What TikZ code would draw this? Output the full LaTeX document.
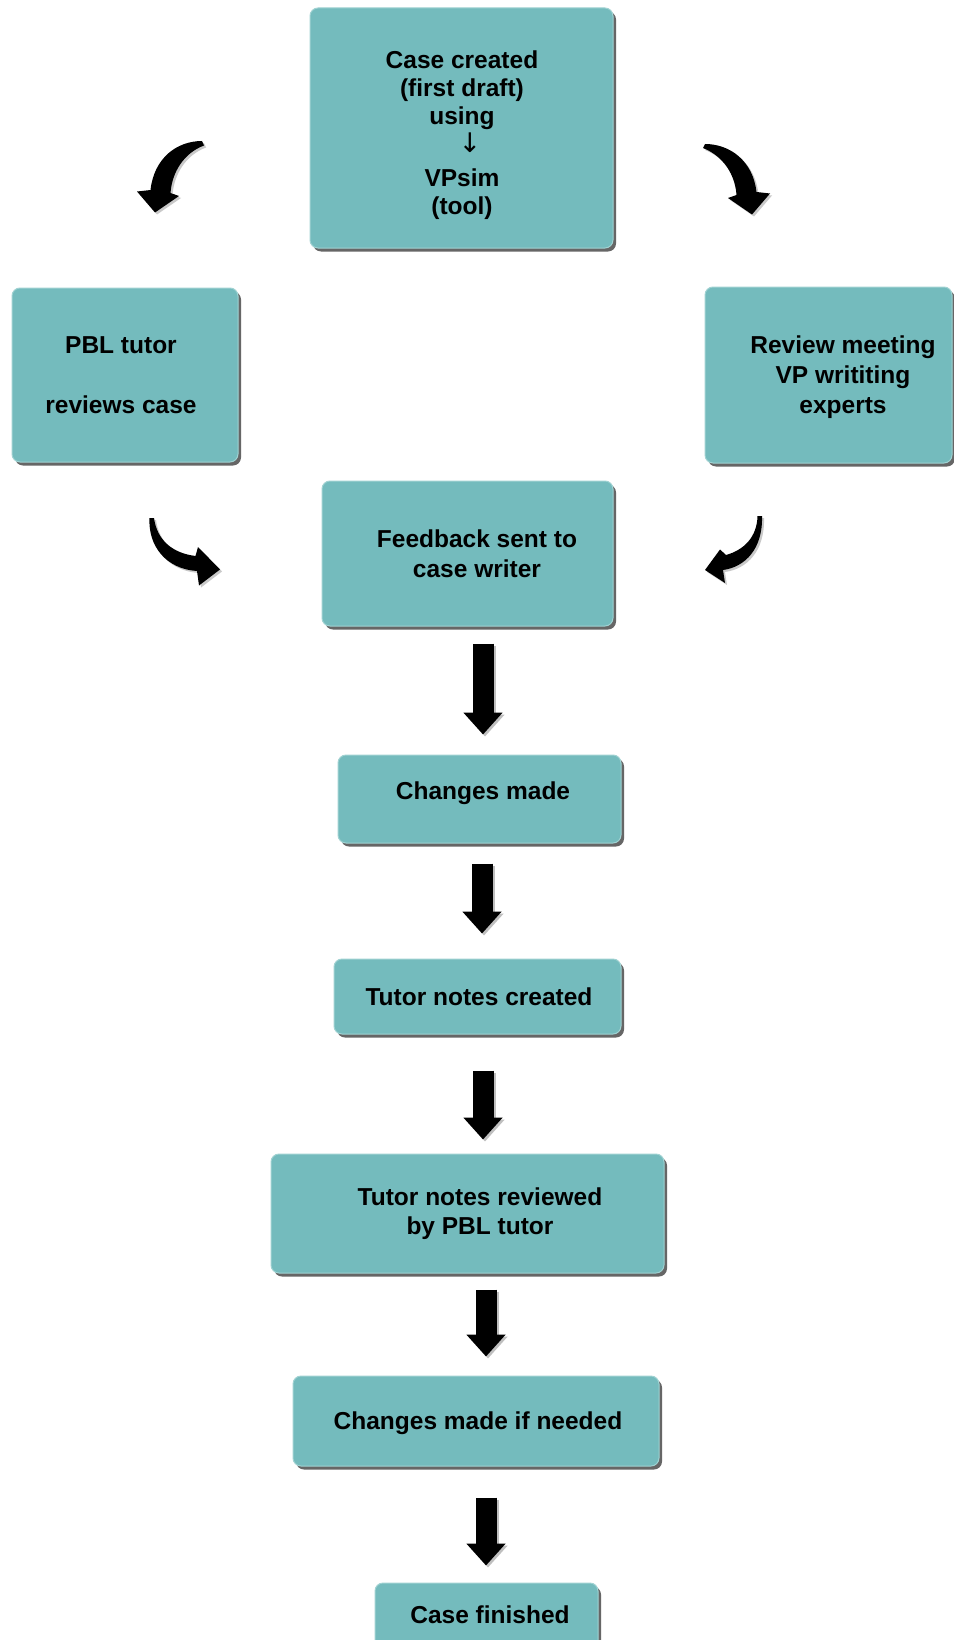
\documentclass[tikz,border=0pt]{standalone}
\usepackage{fontspec}
\setmainfont{Liberation Sans}
\newfontfamily\arrowfont{DejaVu Sans}
\usetikzlibrary{shadows,arrows.meta}
\definecolor{boxfill}{RGB}{116,187,189}
\definecolor{boxedge}{RGB}{160,210,210}
\tikzset{
  box/.style={rectangle, rounded corners=8pt, fill=boxfill, draw=boxedge, line width=1pt, inner sep=0pt,
    drop shadow={shadow xshift=3pt, shadow yshift=-3.5pt, fill=black!80, opacity=.75}},
  boxtext/.style={font=\bfseries\fontsize{24.5}{29}\selectfont, align=center, inner sep=0pt, text=black},
  bigarrow/.style={line width=21pt, draw=black, -{Triangle[length=22pt,width=38pt]}},
  arrowshade/.style={line width=21pt, draw=black!25, -{Triangle[length=22pt,width=38pt]},
    transform canvas={xshift=2pt,yshift=-2pt}},
  curvearrow/.style={fill=black, drop shadow={shadow xshift=2pt, shadow yshift=-2pt, fill=black!35, opacity=.6}}
}
\begin{document}
\begin{tikzpicture}[x=1pt,y=-1pt]
\useasboundingbox (0,0) rectangle (953,1640);
\fill[white] (0,0) rectangle (953,1640);

% boxes
\node[box, minimum width=303pt, minimum height=240pt] (create) at (461.5,128) {};
\node[box, minimum width=226pt, minimum height=174pt] (pbl) at (125,375) {};
\node[box, minimum width=247pt, minimum height=176pt] (review) at (828.5,375) {};
\node[box, minimum width=291pt, minimum height=145pt] (feedback) at (467.5,553.5) {};
\node[box, minimum width=283pt, minimum height=88pt] (changes) at (479.5,799) {};
\node[box, minimum width=287pt, minimum height=75pt] (notes) at (477.5,996.5) {};
\node[box, minimum width=393pt, minimum height=119pt] (reviewed) at (467.5,1213.5) {};
\node[box, minimum width=366pt, minimum height=90pt] (ifneeded) at (476,1421) {};
\node[box, minimum width=223pt, minimum height=67pt] (finished) at (486.5,1616.5) {};

% texts
\node[boxtext, font=\bfseries\fontsize{24.5}{28}\selectfont] (createtxt) at (462,135.5)
  {Case created\\(first draft)\\using\\\hspace*{16pt}{\arrowfont\mdseries\fontsize{27}{28}\selectfont ↓}\\[6pt]VPsim\\(tool)};
\node[boxtext] (pbltxt) at (121,375.4) {PBL tutor\\[31pt]reviews case};
\node[boxtext, font=\bfseries\fontsize{24.5}{30}\selectfont] (reviewtxt) at (843,377.5) {Review meeting\\VP writiting\\experts};
\node[boxtext, font=\bfseries\fontsize{24.5}{30}\selectfont] (feedbacktxt) at (477,554) {Feedback sent to\\case writer};
\node[boxtext] (changestxt) at (483,793.6) {Changes made};
\node[boxtext] (notestxt) at (479,997) {Tutor notes created};
\node[boxtext] (reviewedtxt) at (480,1214) {Tutor notes reviewed\\by PBL tutor};
\node[boxtext] (ifneededtxt) at (478,1423.6) {Changes made if needed};
\node[boxtext] (finishedtxt) at (490,1615) {Case finished};

% straight arrows
\coordinate (a1) at (483,0);
\coordinate (a2) at (482,0);
\coordinate (a3) at (483,0);
\coordinate (a4) at (486,0);
\coordinate (a5) at (486,0);
\draw[arrowshade, shorten <=17pt, shorten >=20pt] (feedback.south -| a1) -- (changes.north -| a1);
\draw[bigarrow, shorten <=17pt, shorten >=20pt] (feedback.south -| a1) -- (changes.north -| a1);
\draw[arrowshade, shorten <=20pt, shorten >=25pt] (changes.south -| a2) -- (notes.north -| a2);
\draw[bigarrow, shorten <=20pt, shorten >=25pt] (changes.south -| a2) -- (notes.north -| a2);
\draw[arrowshade, shorten <=36pt, shorten >=14pt] (notes.south -| a3) -- (reviewed.north -| a3);
\draw[bigarrow, shorten <=36pt, shorten >=14pt] (notes.south -| a3) -- (reviewed.north -| a3);
\draw[arrowshade, shorten <=16pt, shorten >=19pt] (reviewed.south -| a4) -- (ifneeded.north -| a4);
\draw[bigarrow, shorten <=16pt, shorten >=19pt] (reviewed.south -| a4) -- (ifneeded.north -| a4);
\draw[arrowshade, shorten <=31pt, shorten >=17pt] (ifneeded.south -| a5) -- (finished.north -| a5);
\draw[bigarrow, shorten <=31pt, shorten >=17pt] (ifneeded.south -| a5) -- (finished.north -| a5);

% curved arrows
\fill[curvearrow] (202,141) .. controls (177,141) and (154,158) .. (150.5,190) -- (137,191.5) -- (155,212.5)
  -- (179,196) -- (170.5,193) .. controls (172,172) and (184,153) .. (204,145.5) -- cycle;
\fill[curvearrow] (705,144) .. controls (730,144) and (753,161) .. (756.5,192) -- (770,193.5) -- (752,214.5)
  -- (728,198) -- (736.5,195) .. controls (735,174) and (723,156) .. (703,148) -- cycle;
\fill[curvearrow] (149.5,518) .. controls (148,546) and (166,569) .. (197,571) -- (199,585.5) -- (220,569.5)
  -- (198,547) -- (195.5,556) .. controls (172,553) and (157,540) .. (154,518) -- cycle;
\fill[curvearrow] (762,516) .. controls (763,549) and (745,567) .. (723,570) -- (725,583) -- (705,570)
  -- (720,549.5) -- (726,555) .. controls (744,550) and (757,537) .. (757.5,516) -- cycle;
\end{tikzpicture}
\end{document}
